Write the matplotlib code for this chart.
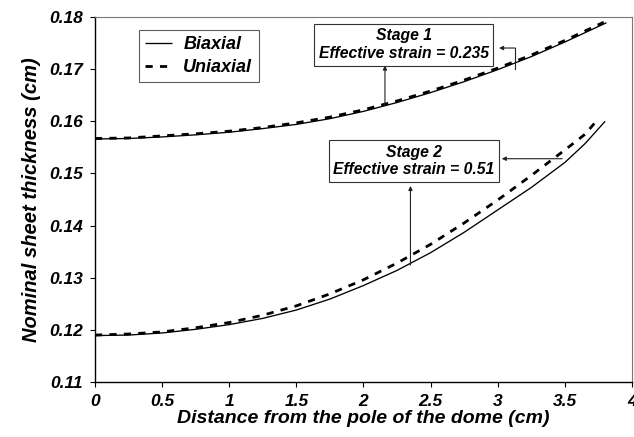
import matplotlib
matplotlib.use("Agg")
import matplotlib.pyplot as plt

plt.rcParams['font.family'] = ['Liberation Sans', 'DejaVu Sans']

# Data
x_s1_bi = [0.0, 0.25, 0.5, 0.75, 1.0, 1.25, 1.5, 1.75, 2.0, 2.25, 2.5, 2.75, 3.0, 3.25, 3.5, 3.81]
y_s1_bi = [0.1566, 0.1567, 0.1570, 0.1574, 0.1579, 0.1586, 0.1594, 0.1605, 0.1619, 0.1636,
           0.1655, 0.1676, 0.1699, 0.1724, 0.1752, 0.1789]
x_s1_uni = [0.0, 0.25, 0.5, 0.75, 1.0, 1.25, 1.5, 1.75, 2.0, 2.25, 2.5, 2.75, 3.0, 3.25, 3.5, 3.79]
y_s1_uni = [0.1567, 0.1568, 0.1572, 0.1576, 0.1581, 0.1588, 0.1597, 0.1608, 0.1622, 0.1639,
            0.1658, 0.1679, 0.1702, 0.1727, 0.1755, 0.1790]
x_s2_bi = [0.0, 0.25, 0.5, 0.75, 1.0, 1.25, 1.5, 1.75, 2.0, 2.25, 2.5, 2.75, 3.0, 3.25, 3.5, 3.65, 3.8]
y_s2_bi = [0.1189, 0.1190, 0.1194, 0.1201, 0.1210, 0.1222, 0.1238, 0.1259, 0.1285, 0.1314,
           0.1348, 0.1387, 0.1430, 0.1473, 0.1521, 0.1557, 0.1600]
x_s2_uni = [0.0, 0.25, 0.5, 0.75, 1.0, 1.25, 1.5, 1.75, 2.0, 2.25, 2.5, 2.75, 3.0, 3.25, 3.5, 3.65, 3.75]
y_s2_uni = [0.1190, 0.1192, 0.1196, 0.1204, 0.1214, 0.1228, 0.1246, 0.1269, 0.1296, 0.1328,
            0.1364, 0.1405, 0.1449, 0.1496, 0.1545, 0.1575, 0.1605]

x_ticks = [0, 0.5, 1, 1.5, 2, 2.5, 3, 3.5, 4]
x_tick_labels = ['0', '0.5', '1', '1.5', '2', '2.5', '3', '3.5', '4']
y_ticks = [0.11, 0.12, 0.13, 0.14, 0.15, 0.16, 0.17, 0.18]
y_tick_labels = ['0.11', '0.12', '0.13', '0.14', '0.15', '0.16', '0.17', '0.18']

fig = plt.figure(figsize=(6.34, 4.37), dpi=100)
ax = fig.add_axes([0.1498, 0.1259, 0.847, 0.8352])

solid_kw = dict(color='black', lw=0.95, solid_capstyle='butt', solid_joinstyle='round')
dash_kw = dict(color='black', lw=2.0, linestyle=(0, (2.6, 2.6)))

ax.plot(x_s1_bi, y_s1_bi, label='Biaxial', **solid_kw)
ax.plot(x_s1_uni, y_s1_uni, label='Uniaxial', **dash_kw)
ax.plot(x_s2_bi, y_s2_bi, **solid_kw)
ax.plot(x_s2_uni, y_s2_uni, **dash_kw)

ax.set_xlim(0, 4)
ax.set_ylim(0.11, 0.18)
ax.set_xticks(x_ticks)
ax.set_xticklabels(x_tick_labels)
ax.set_yticks(y_ticks)
ax.set_yticklabels(y_tick_labels)

for lab in ax.get_xticklabels() + ax.get_yticklabels():
    lab.set_fontsize(12.5)
    lab.set_fontweight('bold')
    lab.set_fontstyle('italic')

ax.tick_params(axis='both', direction='out', length=3.5, width=0.8, colors='black', pad=5)

for side in ['left', 'bottom']:
    ax.spines[side].set_color('black')
    ax.spines[side].set_linewidth(1.0)
for side in ['top', 'right']:
    ax.spines[side].set_color('#777777')
    ax.spines[side].set_linewidth(0.8)

ax.set_xlabel('Distance from the pole of the dome (cm)', fontsize=14,
              fontweight='bold', fontstyle='italic', labelpad=1)
ax.set_ylabel('Nominal sheet thickness (cm)', fontsize=14.5,
              fontweight='bold', fontstyle='italic', labelpad=6)

leg = ax.legend(loc='upper left', bbox_to_anchor=(0.082, 0.964), borderaxespad=0,
                frameon=True, fancybox=False, edgecolor='#333333',
                prop=dict(size=13, weight='bold', style='italic'),
                handlelength=1.5, handletextpad=0.6, labelspacing=0.3,
                borderpad=0.35)
leg.get_frame().set_linewidth(0.8)

box_kw = dict(boxstyle='square,pad=0.3', fc='white', ec='#333333', lw=0.8)
txt_kw = dict(fontsize=11.3, fontweight='bold', fontstyle='italic', ha='center',
              va='center', linespacing=1.2)

ax.text(2.30, 0.1747, 'Stage 1\nEffective strain = 0.235', bbox=box_kw, **txt_kw)
ax.text(2.377, 0.1524, 'Stage 2\nEffective strain = 0.51', bbox=box_kw, **txt_kw)

arrow_kw = dict(arrowstyle='-|>', color='#222222', lw=0.8, mutation_scale=6,
                shrinkA=0, shrinkB=0)
# Stage 1 arrows
ax.annotate('', xy=(2.16, 0.1707), xytext=(2.16, 0.1630), arrowprops=arrow_kw)
ax.plot([3.13, 3.13], [0.1700, 0.17405], color='#222222', lw=0.8)
ax.annotate('', xy=(3.01, 0.17405), xytext=(3.13, 0.17405), arrowprops=arrow_kw)
# Stage 2 arrows
ax.annotate('', xy=(3.03, 0.15282), xytext=(3.48, 0.15282), arrowprops=arrow_kw)
ax.annotate('', xy=(2.35, 0.1476), xytext=(2.35, 0.1324), arrowprops=arrow_kw)

fig.savefig('out.png', dpi=100)
